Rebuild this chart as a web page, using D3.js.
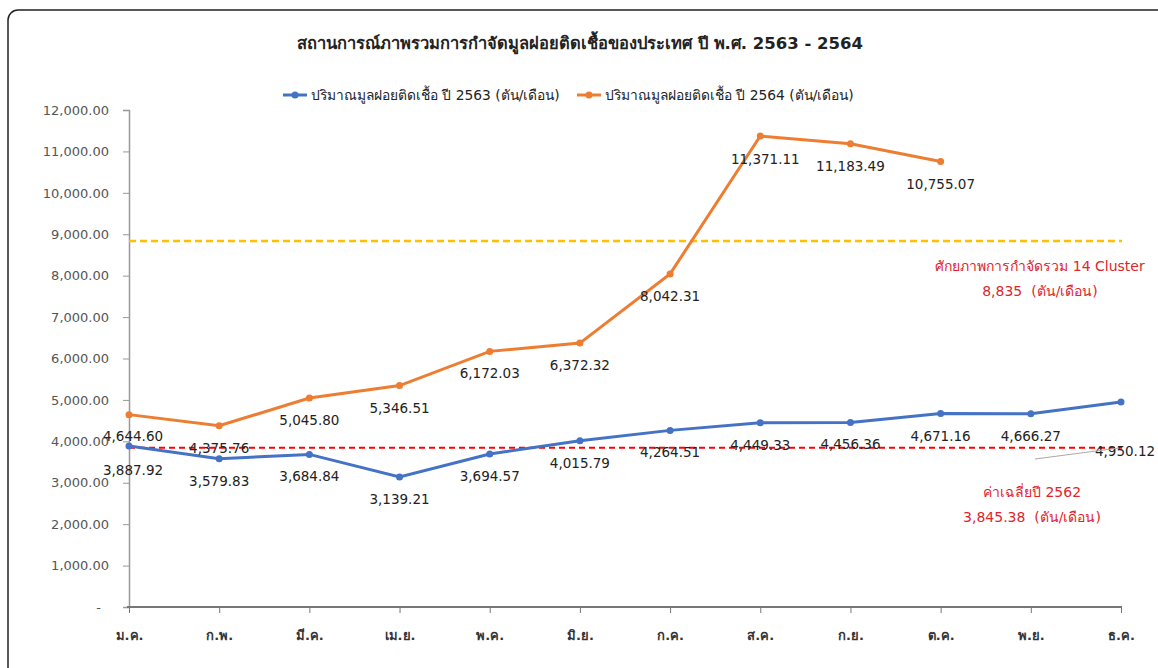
<!DOCTYPE html>
<html><head><meta charset="utf-8">
<script src="https://cdn.jsdelivr.net/npm/d3@7"></script>
<style>body{margin:0;background:#fff}svg{display:block}</style>
</head><body>
<svg id="c" width="1158" height="668"></svg>
<script>
const months = ["ม.ค.","ก.พ.","มี.ค.","เม.ย.","พ.ค.","มิ.ย.","ก.ค.","ส.ค.","ก.ย.","ต.ค.","พ.ย.","ธ.ค."];
const values2563 = [3887.92,3579.83,3684.84,3139.21,3694.57,4015.79,4264.51,4449.33,4456.36,4671.16,4666.27,4950.12];
const values2564 = [4644.60,4375.76,5045.80,5346.51,6172.03,6372.32,8042.31,11371.11,11183.49,10755.07];
const yTicks = [0,1000,2000,3000,4000,5000,6000,7000,8000,9000,10000,11000,12000];
const capacity = 8835;
const avg2562 = 3845.38;
const seriesNames = ["ปริมาณมูลฝอยติดเชื้อ ปี 2563 (ตัน/เดือน)","ปริมาณมูลฝอยติดเชื้อ ปี 2564 (ตัน/เดือน)"];
const title = "สถานการณ์ภาพรวมการกำจัดมูลฝอยติดเชื้อของประเทศ ปี พ.ศ. 2563 - 2564";

const svg = d3.select("#c");
const font = "Tahoma, 'DejaVu Sans', 'Noto Sans', sans-serif";
const blue = "#4472C4", orange = "#ED7D31";

svg.append("rect").attr("x",8).attr("y",10).attr("width",1200).attr("height",720)
  .attr("rx",10).attr("fill","none").attr("stroke","#222").attr("stroke-width",1.5);

const x = d3.scalePoint().domain(months).range([129,1121]);
const y = d3.scaleLinear().domain([0,12000]).range([607,110]);

// title
svg.append("text").attr("x",580).attr("y",49).attr("text-anchor","middle")
  .attr("font-family",font).attr("font-size",16.5).attr("font-weight","bold").attr("fill","#222").text(title);

// legend
const leg = [{x:283,c:blue,t:seriesNames[0]},{x:577,c:orange,t:seriesNames[1]}];
leg.forEach(l=>{
  svg.append("line").attr("x1",l.x).attr("x2",l.x+24).attr("y1",95).attr("y2",95).attr("stroke",l.c).attr("stroke-width",3);
  svg.append("circle").attr("cx",l.x+12).attr("cy",95).attr("r",3.5).attr("fill",l.c);
  svg.append("text").attr("x",l.x+28).attr("y",100).attr("font-family",font).attr("font-size",13.8).attr("fill","#222").text(l.t);
});

// y axis
const yAxis = d3.axisLeft(y).tickValues(yTicks).tickSize(6).tickPadding(14)
  .tickFormat(d=> d===0 ? "-" : d3.format(",.2f")(d));
const ga = svg.append("g").attr("transform","translate(129,0)").call(yAxis);
ga.select(".domain").attr("stroke","#999").attr("stroke-width",1.5);
ga.selectAll(".tick line").attr("stroke","#999");
ga.selectAll("text").attr("font-family",font).attr("font-size",13).attr("fill","#555");
ga.selectAll(".tick").filter(d=>d===0).select("text").attr("dx",-8);

// x axis
const xAxis = d3.axisBottom(x).tickSize(6).tickPadding(18);
const gx = svg.append("g").attr("transform","translate(0,607)").call(xAxis);
gx.select(".domain").attr("stroke","#777").attr("stroke-width",2).attr("d","M127,0H1122");
gx.selectAll(".tick line").attr("stroke","#777");
gx.selectAll("text").attr("font-family",font).attr("font-size",13).attr("font-weight","bold").attr("fill","#333");

// reference lines
svg.append("line").attr("x1",129).attr("x2",1122).attr("y1",y(capacity)).attr("y2",y(capacity))
  .attr("stroke","#FFC000").attr("stroke-width",2.5).attr("stroke-dasharray","7,4");
svg.append("line").attr("x1",129).attr("x2",1122).attr("y1",y(avg2562)).attr("y2",y(avg2562))
  .attr("stroke","#FF0000").attr("stroke-width",2).attr("stroke-dasharray","6,4");

// series
const line = d3.line().x((d,i)=>x(months[i])).y(d=>y(d));
[[values2563,blue],[values2564,orange]].forEach(([vals,c])=>{
  svg.append("path").datum(vals).attr("d",line).attr("fill","none").attr("stroke",c).attr("stroke-width",3);
  svg.selectAll(null).data(vals).enter().append("circle")
    .attr("cx",(d,i)=>x(months[i])).attr("cy",d=>y(d)).attr("r",3.5).attr("fill",c);
});

// data labels
function labels(vals, offs){
  svg.selectAll(null).data(vals).enter().append("text")
    .attr("x",(d,i)=>x(months[i]) + (offs[i]?offs[i][0]:0))
    .attr("y",(d,i)=>y(d) + (offs[i]?offs[i][1]:27))
    .attr("text-anchor","middle").attr("font-family",font).attr("font-size",13.5).attr("fill","#222")
    .text(d=>d3.format(",.2f")(d));
}
const off63 = {0:[4,29],11:[4,54]};
labels(values2563, off63);
labels(values2564, {0:[4,26],7:[5,28]});

// leader line for last label
svg.append("line").attr("x1",1035).attr("y1",459).attr("x2",1119).attr("y2",448)
  .attr("stroke","#aaa").attr("stroke-width",1.2);

// annotations
const red = "#E0242B";
[["ศักยภาพการกำจัดรวม 14 Cluster",1040,271],["8,835  (ตัน/เดือน)",1040,296],
 ["ค่าเฉลี่ยปี 2562",1032,497],["3,845.38  (ตัน/เดือน)",1032,522]].forEach(a=>{
  svg.append("text").attr("x",a[1]).attr("y",a[2]).attr("text-anchor","middle")
    .attr("font-family",font).attr("font-size",14).attr("fill",red).attr("xml:space","preserve").style("white-space","pre").text(a[0]);
});
</script>
</body></html>
